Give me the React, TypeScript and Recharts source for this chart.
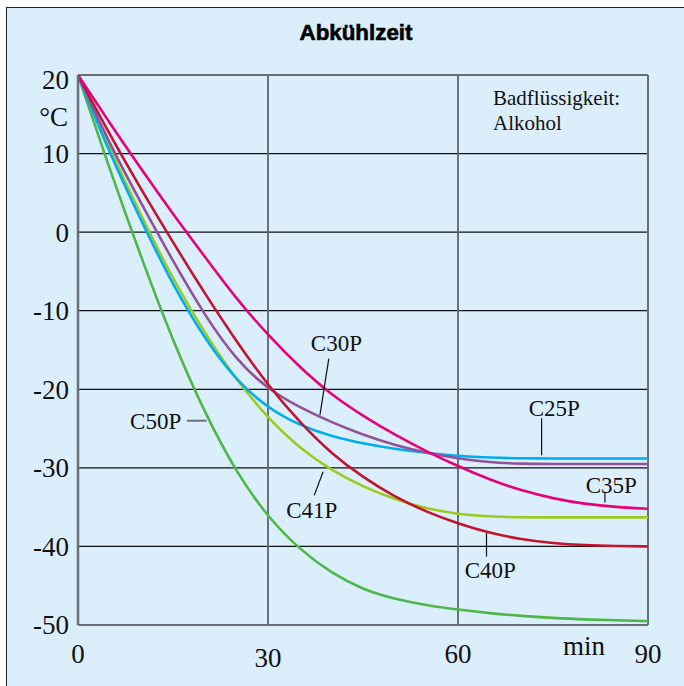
import { LineChart, Line, XAxis, YAxis, CartesianGrid, ReferenceLine, ReferenceDot } from "recharts";

// Zeit in Minuten
const minutes = [0, 5, 10, 15, 20, 25, 30, 35, 40, 45, 50, 55, 60, 65, 70, 75, 80, 85, 90];

// Badtemperatur in °C
const c25p = [20, 10, 1.4, -6.8, -13.6, -18.9, -22.4, -24.6, -26.0, -26.9, -27.6, -28.1, -28.5, -28.7, -28.8, -28.8, -28.8, -28.8, -28.8];
const c30p = [20, 11.2, 3.6, -3.7, -10.6, -16.3, -20.0, -22.3, -24.2, -25.8, -27.1, -28.1, -28.8, -29.3, -29.5, -29.5, -29.5, -29.5, -29.5];
const c35p = [20, 13.9, 8.0, 2.3, -3.1, -8.5, -13.1, -17.2, -20.7, -23.4, -25.8, -27.9, -29.8, -31.5, -32.9, -33.9, -34.6, -35.0, -35.2];
const c40p = [20, 12.4, 5.4, -1.3, -7.8, -13.9, -19.5, -24.2, -28.2, -31.2, -33.7, -35.6, -37.1, -38.3, -39.1, -39.6, -39.85, -39.95, -40.0];
const c41p = [20, 10.6, 2.0, -6.0, -12.9, -18.8, -23.7, -27.5, -30.3, -32.4, -34.0, -35.2, -35.9, -36.2, -36.3, -36.3, -36.3, -36.3, -36.3];
const c50p = [20, 8.0, -3.3, -13.9, -23.0, -30.6, -36.3, -40.4, -43.4, -45.5, -46.7, -47.5, -48.05, -48.5, -48.85, -49.1, -49.3, -49.4, -49.5];

const xTicks = [0, 30, 60, 90];
const yTicks = [20, 10, 0, -10, -20, -30, -40, -50];

// Beschriftung der Kurven (Datenkoordinaten)
const labelNames = ["C50P", "C30P", "C41P", "C25P", "C35P", "C40P"];
const labelX = [16.3, 40.8, 36.9, 75.2, 84.2, 65.1];
const labelY = [-24.0, -14.1, -35.4, -22.4, -32.1, -43.0];
const pointerFrom = [
  { x: 17.2, y: -24.0 },
  { x: 39.6, y: -16.1 },
  { x: 38.7, y: -30.5 },
  { x: 73.2, y: -23.7 },
  { x: 83.2, y: -33.2 },
  { x: 64.5, y: -38.3 },
];
const pointerTo = [
  { x: 20.3, y: -24.0 },
  { x: 38.2, y: -23.3 },
  { x: 37.3, y: -33.5 },
  { x: 73.2, y: -28.4 },
  { x: 83.2, y: -34.4 },
  { x: 64.5, y: -41.3 },
];

const data = minutes.map((t, i) => ({
  t,
  c25p: c25p[i],
  c30p: c30p[i],
  c35p: c35p[i],
  c40p: c40p[i],
  c41p: c41p[i],
  c50p: c50p[i],
}));

const series = [
  { key: "c50p", color: "#4db848" },
  { key: "c41p", color: "#9ccb1f" },
  { key: "c25p", color: "#00aeef" },
  { key: "c30p", color: "#93519a" },
  { key: "c40p", color: "#c4122f" },
  { key: "c35p", color: "#e6007e" },
];

const serif = "'Liberation Serif', 'Times New Roman', serif";
const frameGray = "#6a6f76";

const XTick = (props: any) => {
  const { x, y, payload } = props;
  const dy = payload.value === 30 ? 4 : 0;
  return (
    <text x={x} y={y + 30 + dy} textAnchor="middle" fontSize={27} fontFamily={serif} fill="#111">
      {payload.value}
    </text>
  );
};

const YTick = (props: any) => {
  const { x, y, payload } = props;
  const dy = payload.value === 20 ? 5 : 0;
  return (
    <text x={x} y={y + dy} dy="0.35em" textAnchor="end" fontSize={27} fontFamily={serif} fill="#111">
      {payload.value}
    </text>
  );
};

export default function App() {
  return (
    <div style={{ position: "relative", width: 684, height: 686, overflow: "hidden", background: "#fff" }}>
      <style>{`body{margin:0}`}</style>
      <div
        style={{
          position: "absolute",
          left: 6,
          top: 7,
          width: 720,
          height: 720,
          background: "#dbeefb",
          border: "1.5px solid #222",
        }}
      />
      <div style={{ position: "absolute", left: 0, top: 0 }}>
        <LineChart width={684} height={686} data={data} margin={{ top: 75, right: 36, bottom: 0, left: 0 }}>
          <CartesianGrid vertical={false} stroke="#111" strokeWidth={1.2} />
          <CartesianGrid horizontal={false} stroke="#5d636b" strokeWidth={1.8} />
          <XAxis
            dataKey="t"
            type="number"
            domain={[0, 90]}
            ticks={xTicks}
            height={61}
            tickLine={false}
            axisLine={{ stroke: frameGray, strokeWidth: 2 }}
            tick={<XTick />}
            interval={0}
          />
          <YAxis
            type="number"
            domain={[-50, 20]}
            ticks={yTicks}
            width={78}
            tickLine={false}
            tickMargin={3}
            axisLine={{ stroke: frameGray, strokeWidth: 2.5 }}
            tick={<YTick />}
            interval={0}
          />
          <ReferenceLine y={20} stroke={frameGray} strokeWidth={2} />
          <ReferenceLine x={90} stroke={frameGray} strokeWidth={2} />
          {series.map((s) => (
            <Line
              key={s.key}
              type="basis"
              dataKey={s.key}
              stroke={s.color}
              strokeWidth={2.6}
              dot={false}
              isAnimationActive={false}
            />
          ))}
          {labelNames.map((name, i) => (
            <ReferenceLine
              key={"p" + name}
              segment={[pointerFrom[i], pointerTo[i]]}
              stroke={i === 0 ? "#6d7278" : "#111"}
              strokeWidth={i === 0 ? 2 : 1.2}
            />
          ))}
          {labelNames.map((name, i) => (
            <ReferenceDot
              key={"l" + name}
              x={labelX[i]}
              y={labelY[i]}
              r={0}
              fill="none"
              stroke="none"
              label={{
                value: name,
                position: i === 0 ? "left" : "center",
                offset: 0,
                fontSize: 23,
                fontFamily: serif,
                fill: "#111",
              }}
            />
          ))}
        </LineChart>
      </div>
      <svg width={684} height={686} style={{ position: "absolute", left: 0, top: 0, pointerEvents: "none" }}>
        <text
          x={356}
          y={40}
          textAnchor="middle"
          fontSize={22}
          fontWeight="bold"
          fontFamily="'Liberation Sans Narrow', 'Arial Narrow', sans-serif"
          textLength={113}
          lengthAdjust="spacingAndGlyphs"
          fill="#000"
          stroke="#000"
          strokeWidth={0.6}
        >
          Abkühlzeit
        </text>
        <text x={68} y={126} textAnchor="end" fontSize={27} fontFamily={serif} fill="#111">
          °C
        </text>
        <text x={584} y={655} textAnchor="middle" fontSize={27} fontFamily={serif} fill="#111">
          min
        </text>
        <text x={493} y={105} fontSize={21} fontFamily={serif} fill="#111">
          Badflüssigkeit:
        </text>
        <text x={493} y={130} fontSize={21} fontFamily={serif} fill="#111">
          Alkohol
        </text>
      </svg>
    </div>
  );
}
